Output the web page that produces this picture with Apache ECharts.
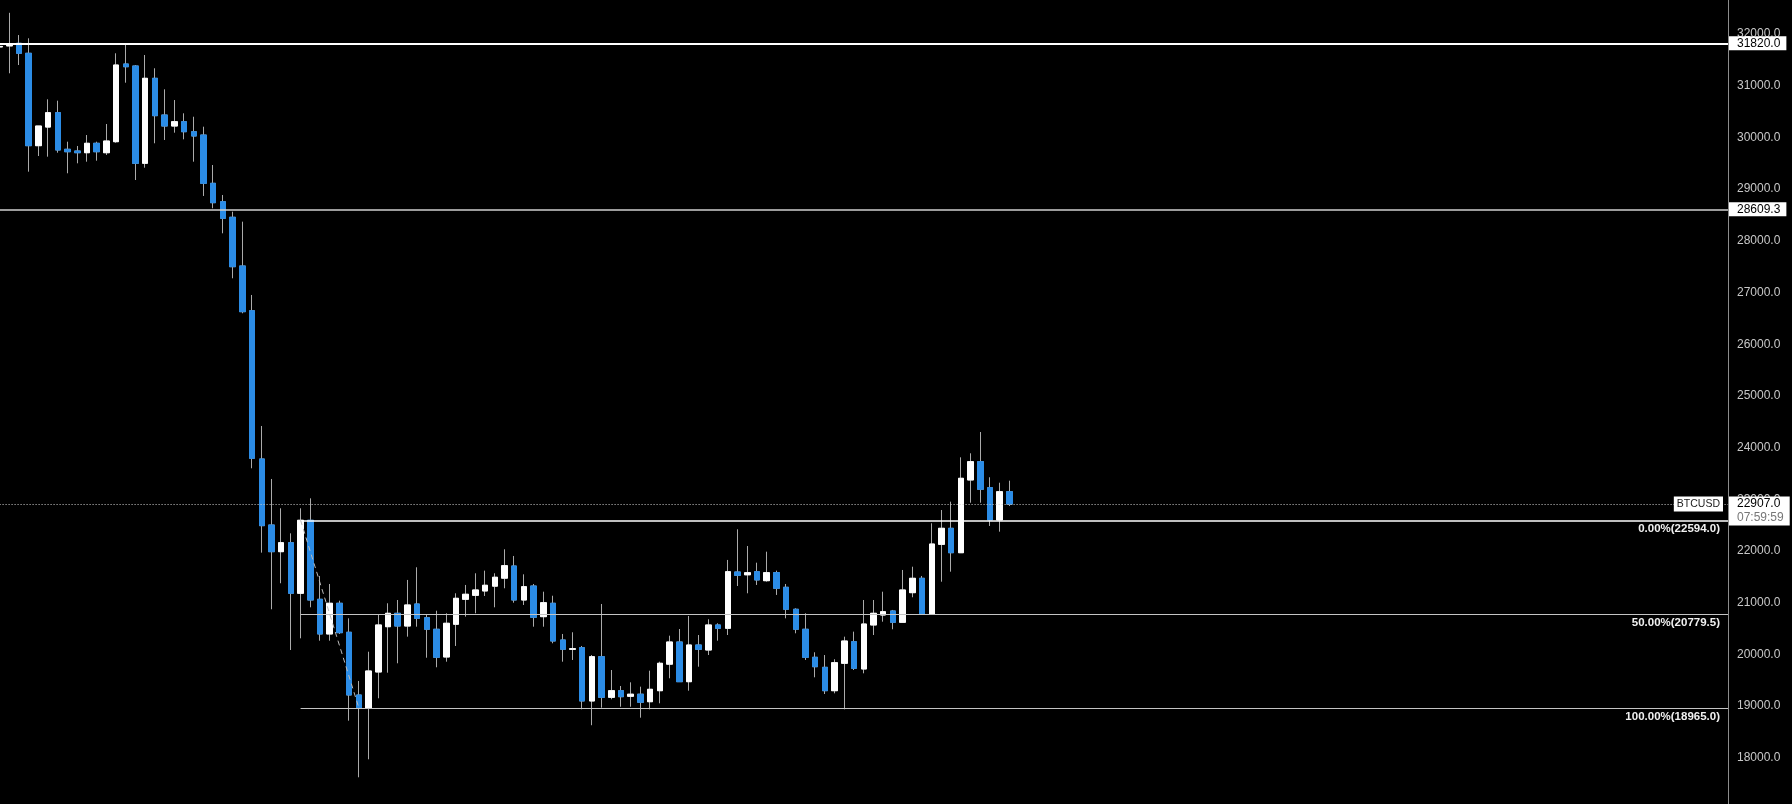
<!DOCTYPE html>
<html><head><meta charset="utf-8">
<script src="https://cdn.jsdelivr.net/npm/echarts@6/dist/echarts.min.js"></script>
<style>html,body{margin:0;padding:0;background:#000;}#c{width:1792px;height:804px;}</style>
</head><body><div id="c"></div>
<script>
// OHLC (one entry per candle, left to right)
const opens = [31750,31770,31820,31627,29840,30200,30478,29770,29737,29704,
  29886,29704,29917,31420,31381,29499,31143,30433,30220,30304,
  30110,30046,29112,28756,28455,27513,26648,23780,22503,21987,
  22161,21182,22594,21066,20395,20989,20428,19215,18965,19660,
  20536,20795,20549,20975,20710,20486,19950,20583,21066,21143,
  21227,21320,21475,21710,21052,21323,20730,20989,20279,20099,
  20130,19099,19956,19170,19298,19190,19230,19085,19298,19811,
  20240,19472,20182,20085,20569,20505,21594,21540,21600,21426,
  21581,21298,20873,20486,19944,19750,19298,19828,20246,19718,
  20569,20762,20840,20621,21194,21472,20782,22129,22439,21967,
  23374,23728,23225,22600,23147];
const closes = [31760,31780,31627,29840,30220,30478,29756,29723,29704,29886,
  29723,29930,31400,31367,29499,31143,30420,30220,30304,30110,
  30027,29112,28737,28435,27499,26629,23793,22490,21987,22161,
  21182,22594,21052,20395,20989,20420,19215,18965,19679,20569,
  20795,20549,20956,20698,20486,19944,20602,21085,21163,21246,
  21337,21492,21716,21052,21310,20718,21000,20259,20099,20110,
  19099,19956,19170,19298,19182,19230,19074,19325,19828,20240,
  19472,20182,20099,20569,20505,21600,21530,21580,21440,21581,
  21279,20873,20486,19944,19762,19298,19840,20259,19731,20588,
  20795,20826,20621,21246,21472,20782,22135,22439,21967,23406,
  23728,23194,22600,23147,22907];
const lows = [31735,31240,31400,29337,29640,29627,29704,29306,29499,29530,
  29549,29660,29897,31058,29176,29414,29886,29950,30091,29963,
  29530,28867,28629,28145,27275,26598,23600,21968,20873,21376,
  20085,20311,20911,20265,20265,20395,18718,17623,17971,19151,
  19646,19828,20343,20536,19936,19751,19859,20163,20730,20795,
  21130,20911,21279,21000,20956,20536,20536,20215,19859,19892,
  18938,18630,18969,19132,18988,18988,18776,18938,19054,19538,
  19472,19298,19762,19988,20265,20375,21323,21182,21343,21407,
  21150,20698,20408,19892,19557,19234,19247,18938,19698,19634,
  20375,20633,20486,20621,21105,20762,20782,21406,21600,21967,
  22934,22934,22484,22374,22870];
const highs = [31775,32410,31980,31917,30220,30737,30710,29917,29834,30046,
  29917,30259,31627,31820,31400,31594,31337,30930,30723,30466,
  30400,30207,29466,28886,28563,28370,26952,24418,23393,22826,
  22342,22826,23019,21517,21362,21039,20698,19486,20052,20762,
  20989,21052,21440,21685,20762,20845,20795,21182,21343,21569,
  21620,21569,22033,21904,21549,21362,21213,21135,20395,20428,
  20163,19988,20975,19698,19389,19460,19376,19685,19859,20362,
  20491,20743,20375,20679,20602,21827,22420,22097,21774,21987,
  21620,21362,20892,20795,20041,19988,19906,20343,20440,21052,
  21052,21213,20860,21633,21696,21517,22536,22793,22954,23812,
  23890,24302,23426,23321,23360];

// bar slots: candles plus the empty space on the right of the chart
const totalSlots = 179;
const categories = Array.from({length: totalSlots}, (_, i) => String(i + 1));

const yMin = 17000, yMax = 33000, yStep = 1000;
const hLevels = [31820.0, 28609.3];
const fibValues = [22594.0, 20779.5, 18965.0];
const fibNames = ['0.00%', '50.00%', '100.00%'];
const fibStartIndex = 31, fibLowIndex = 37;
const symbolName = 'BTCUSD';
const timerText = '07:59:59';

const FONT = 'Liberation Sans, Arial, sans-serif';
const BLUE = '#2b8ce6';
const lastClose = closes[closes.length - 1];

const wickData = opens.map((o, i) => [o, closes[i], lows[i], highs[i]]);
const bodyData = opens.map((o, i) => [o, closes[i], Math.min(o, closes[i]), Math.max(o, closes[i])]);

const ml = [];
hLevels.forEach((v, k) => ml.push({
  yAxis: v,
  lineStyle: {color: k === 0 ? '#ffffff' : '#d0d0d0', width: k === 0 ? 2 : 1.5, type: 'solid'},
  label: {show: true, position: 'end', formatter: v.toFixed(1), backgroundColor: '#ffffff',
    color: '#000', padding: [1, 6, 0, 8], distance: 1, fontSize: 12, lineHeight: 13, fontFamily: FONT}
}));
ml.push({
  yAxis: lastClose,
  lineStyle: {color: '#cfcfcf', width: 1, type: [1, 2]},
  label: {show: true, position: 'insideEnd', formatter: symbolName, backgroundColor: '#ffffff',
    color: '#222', padding: [1, 3, 0, 3], distance: 5, fontSize: 10.5, lineHeight: 14, fontFamily: FONT}
});
fibValues.forEach((v, k) => ml.push([
  {coord: [categories[fibStartIndex], v],
   lineStyle: {color: k === 0 ? '#ffffff' : '#c4c4c4', width: k === 0 ? 1.5 : 1.2, type: 'solid'},
   label: {show: true, position: 'insideEndBottom', formatter: fibNames[k] + '(' + v.toFixed(1) + ')',
     color: '#f0f0f0', fontSize: 11.5, fontWeight: 'bold', distance: [8, 3], fontFamily: FONT}},
  {coord: [categories[totalSlots - 1], v]}
]));
ml.push([
  {coord: [categories[fibStartIndex], fibValues[0]], lineStyle: {color: '#bbbbbb', width: 1, type: [5, 4]}, label: {show: false}},
  {coord: [categories[fibLowIndex], fibValues[2]]}
]);

const chart = echarts.init(document.getElementById('c'));
chart.setOption({
  backgroundColor: '#000000',
  animation: false,
  grid: {left: -0.42, right: 64, top: -17.7, bottom: -5.5, containLabel: false, outerBoundsMode: 'none'},
  xAxis: {type: 'category', data: categories, boundaryGap: false,
    axisLine: {show: false}, axisTick: {show: false}, axisLabel: {show: false}, splitLine: {show: false}},
  yAxis: {type: 'value', position: 'right', min: yMin, max: yMax, interval: yStep, scale: true,
    axisLine: {show: true, lineStyle: {color: '#8c8c8c', width: 1}},
    axisTick: {show: false}, splitLine: {show: false},
    axisLabel: {color: '#c8c8c8', fontSize: 12, fontFamily: FONT, margin: 9,
      formatter: v => v.toFixed(1)}},
  series: [
    {type: 'candlestick', name: 'wick', data: wickData, barWidth: 6, silent: true,
     itemStyle: {color: '#aaaaaa', color0: '#aaaaaa', borderColor: '#aaaaaa', borderColor0: '#aaaaaa', borderWidth: 1}},
    {type: 'candlestick', name: 'body', data: bodyData, barWidth: 6, silent: true, clip: false,
     itemStyle: {color: '#ffffff', color0: BLUE, borderColor: '#ffffff', borderColor0: BLUE, borderWidth: 1},
     markLine: {symbol: ['none', 'none'], silent: true, animation: false, data: ml},
     markPoint: {symbol: 'rect', symbolSize: 1, silent: true, animation: false,
       itemStyle: {color: 'rgba(0,0,0,0)'},
       data: [{coord: [categories[totalSlots - 1], lastClose],
         label: {show: true, position: [1.5, -7], align: 'left', verticalAlign: 'top',
           formatter: '{p|' + lastClose.toFixed(1) + '}\n{t|' + timerText + '}',
           backgroundColor: '#ffffff', padding: [0, 6, 1, 8],
           rich: {p: {color: '#000', fontSize: 12, lineHeight: 14, fontFamily: FONT},
                  t: {color: '#777', fontSize: 12, lineHeight: 14, fontFamily: FONT}}}}]}
    }
  ]
});
</script></body></html>
